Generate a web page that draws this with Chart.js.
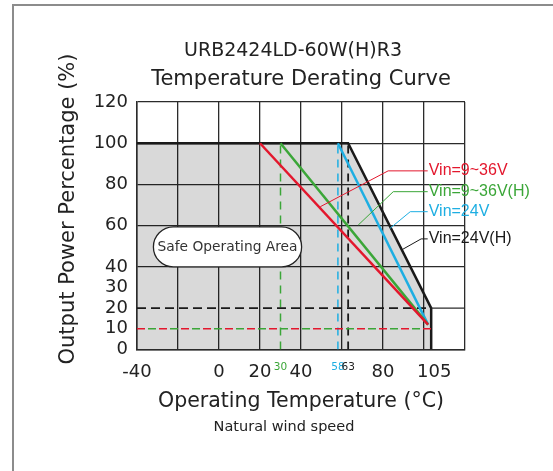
<!DOCTYPE html>
<html>
<head>
<meta charset="utf-8">
<script src="https://cdn.jsdelivr.net/npm/chart.js@4.4.0/dist/chart.umd.min.js"></script>
<style>
  html, body { margin: 0; padding: 0; background: #fff; }
  #wrap { position: relative; width: 553px; height: 471px; }
  #frame { position: absolute; left: 12px; top: 4px; right: 0; bottom: 0;
           border-left: 2px solid #8c8c8c; border-top: 2px solid #8c8c8c; }
  canvas { position: absolute; left: 0; top: 0; }
</style>
</head>
<body>
<div id="wrap">
  <div id="frame"></div>
  <canvas id="chart" width="553" height="471"></canvas>
</div>
<script>
// ticks / grid
const xTicks = [-40, -20, 0, 20, 30, 40, 58, 60, 63, 80, 100, 105, 120];
const xLabels = [-40, 0, 20, 30, 40, 58, 63, 80, 105];
const xGrid = [-40, -20, 0, 20, 40, 60, 80, 100, 120];
const yTicks = [0, 10, 20, 30, 40, 60, 80, 100, 120];
const yGrid = [0, 40, 60, 80, 100, 120];

// derating curves (temp in C, power in %)
const seriesNames = ['Vin=9~36V', 'Vin=9~36V(H)', 'Vin=24V', 'Vin=24V(H)'];
const seriesColors = ['#e3172d', '#3ba638', '#1eaee2', '#1a1a1a'];
const redTemp = [20, 102], redPower = [100, 12];
const greenTemp = [30, 102], greenPower = [100, 12];
const cyanTemp = [58, 102], cyanPower = [100, 12];
const blackTemp = [-40, 63, 103.5, 103.5], blackPower = [100, 100, 20, 0];

// dashed guide lines
const guide30Temp = [30, 30], guide30Power = [0, 100];
const guide58Temp = [58, 58], guide58Power = [0, 100];
const guide63Temp = [63, 63], guide63Power = [0, 100];
const guide20Temp = [-40, 103.5], guide20Power = [20, 20];
const guide10Temp = [-40, 103.5], guide10Power = [10, 10];
const grid20Temp = [103.5, 120], grid20Power = [20, 20];

// leader lines to the labels
const redLeadTemp = [49.4, 82.5, 101.8], redLeadPower = [69.2, 86.6, 86.6];
const greenLeadTemp = [67.9, 85, 101.8], greenLeadPower = [60.3, 76.5, 76.5];
const cyanLeadTemp = [83.4, 93.3, 101.8], cyanLeadPower = [58.7, 66.8, 66.8];
const blackLeadTemp = [89, 98.6, 101.8], blackLeadPower = [48.2, 53.6, 53.6];

function pts(xs, ys) {
    return xs.map((x, i) => ({x: x, y: ys[i]}));
}

function line(data, color, width, dash, order, extra) {
    return Object.assign({
        data: data,
        borderColor: color,
        borderWidth: width,
        borderDash: dash || [],
        pointRadius: 0,
        fill: false,
        tension: 0,
        order: order
    }, extra || {});
}

const leaders = [
    pts(redLeadTemp, redLeadPower),
    pts(greenLeadTemp, greenLeadPower),
    pts(cyanLeadTemp, cyanLeadPower),
    pts(blackLeadTemp, blackLeadPower)
];

const datasets = [
    line(pts(blackTemp, blackPower), '#1a1a1a', 2.5, null, 10,
         {fill: 'origin', backgroundColor: 'rgba(0,0,0,0.15)'}),
    line(pts(grid20Temp, grid20Power), '#2b2b2b', 1.2, null, 9),
    line(pts(guide20Temp, guide20Power), '#1a1a1a', 1.8, [9, 5], 8),
    line(pts(guide10Temp, guide10Power), seriesColors[0], 1.5, [8, 14], 8),
    line(pts(guide10Temp, guide10Power), seriesColors[1], 1.5, [8, 14], 8, {borderDashOffset: 11}),
    line(pts(guide30Temp, guide30Power), seriesColors[1], 1.5, [8, 6], 8),
    line(pts(guide58Temp, guide58Power), seriesColors[2], 1.5, [8, 6], 8),
    line(pts(guide63Temp, guide63Power), '#1a1a1a', 1.8, [8, 6], 8),
    line(pts(redTemp, redPower), seriesColors[0], 2.5, null, 3),
    line(pts(greenTemp, greenPower), seriesColors[1], 2.5, null, 3),
    line(pts(cyanTemp, cyanPower), seriesColors[2], 2.5, null, 3)
];
leaders.forEach((d, i) => datasets.push(line(d, seriesColors[i], 1, null, 1)));

const FONT = "'DejaVu Sans', sans-serif";

// white "Safe Operating Area" pill, series labels, titles
const annotate = {
    id: 'annotate',
    afterDatasetsDraw(chart) {
        const ctx = chart.ctx;
        const xs = chart.scales.x, ys = chart.scales.y;
        const x0 = xs.getPixelForValue(-32), x1 = xs.getPixelForValue(40.3);
        const y0 = ys.getPixelForValue(59.4), y1 = ys.getPixelForValue(40);
        const r = (y1 - y0) / 2;
        ctx.save();
        ctx.beginPath();
        ctx.moveTo(x0 + r, y0);
        ctx.lineTo(x1 - r, y0);
        ctx.arc(x1 - r, y0 + r, r, -Math.PI / 2, Math.PI / 2);
        ctx.lineTo(x0 + r, y1);
        ctx.arc(x0 + r, y0 + r, r, Math.PI / 2, Math.PI * 1.5);
        ctx.closePath();
        ctx.fillStyle = '#fff';
        ctx.fill();
        ctx.lineWidth = 1.3;
        ctx.strokeStyle = '#222';
        ctx.stroke();
        ctx.fillStyle = '#333';
        ctx.font = '13.8px ' + FONT;
        ctx.textAlign = 'center';
        ctx.textBaseline = 'middle';
        ctx.fillText('Safe Operating Area', (x0 + x1) / 2, y0 + r);

        ctx.textAlign = 'left';
        ctx.font = "16px 'Liberation Sans', sans-serif";
        leaders.forEach((d, i) => {
            const last = d[d.length - 1];
            ctx.fillStyle = seriesColors[i];
            ctx.fillText(seriesNames[i], xs.getPixelForValue(last.x) + 1, ys.getPixelForValue(last.y));
        });
        ctx.restore();
    },
    afterDraw(chart) {
        const ctx = chart.ctx;
        ctx.save();
        ctx.fillStyle = '#222';
        ctx.textAlign = 'center';
        ctx.textBaseline = 'middle';
        ctx.font = '19px ' + FONT;
        ctx.fillText('URB2424LD-60W(H)R3', 293, 51);
        ctx.font = '21px ' + FONT;
        ctx.fillText('Temperature Derating Curve', 301, 80);
        ctx.font = '14.5px ' + FONT;
        ctx.fillText('Natural wind speed', 284, 427);
        ctx.translate(69, 209);
        ctx.rotate(-Math.PI / 2);
        ctx.font = '21px ' + FONT;
        ctx.fillText('Output Power Percentage (%)', 0, 0);
        ctx.restore();
    }
};

const CLEAR = 'rgba(0,0,0,0)';
const tickVal = c => (c && c.tick) ? c.tick.value : null;

new Chart(document.getElementById('chart'), {
    type: 'line',
    data: {datasets: datasets},
    plugins: [annotate],
    options: {
        responsive: false,
        animation: false,
        layout: {padding: {top: 102, left: 14, right: 88, bottom: 51.6}},
        plugins: {
            legend: {display: false},
            tooltip: {enabled: false}
        },
        scales: {
            x: {
                type: 'linear',
                min: -40,
                max: 120,
                afterBuildTicks: s => { s.ticks = xTicks.map(v => ({value: v})); },
                afterFit: s => { s.height = 70; },
                border: {display: true, color: '#2b2b2b', width: 1.5},
                grid: {
                    drawTicks: false,
                    lineWidth: 1.3,
                    color: c => xGrid.includes(tickVal(c)) ? '#2b2b2b' : CLEAR
                },
                ticks: {
                    autoSkip: false,
                    maxRotation: 0,
                    minRotation: 0,
                    padding: 12,
                    callback: v => xLabels.includes(v) ? String(v) : '',
                    color: c => tickVal(c) === 30 ? seriesColors[1] : (tickVal(c) === 58 ? seriesColors[2] : '#222'),
                    font: c => ({family: FONT, size: [30, 58, 63].includes(tickVal(c)) ? 10.5 : 18})
                },
                title: {
                    display: true,
                    text: 'Operating Temperature (°C)',
                    color: '#222',
                    font: {family: FONT, size: 20.5},
                    padding: {top: 0, bottom: 5.1}
                }
            },
            y: {
                type: 'linear',
                min: 0,
                max: 120,
                afterBuildTicks: s => { s.ticks = yTicks.map(v => ({value: v})); },
                afterFit: s => { s.width = 123; },
                border: {display: true, color: '#2b2b2b', width: 1.5},
                grid: {
                    drawTicks: false,
                    lineWidth: 1.3,
                    color: c => yGrid.includes(tickVal(c)) ? '#2b2b2b' : CLEAR
                },
                ticks: {
                    autoSkip: false,
                    padding: 9,
                    color: '#222',
                    font: {family: FONT, size: 18}
                }
            }
        }
    }
});
</script>
</body>
</html>
